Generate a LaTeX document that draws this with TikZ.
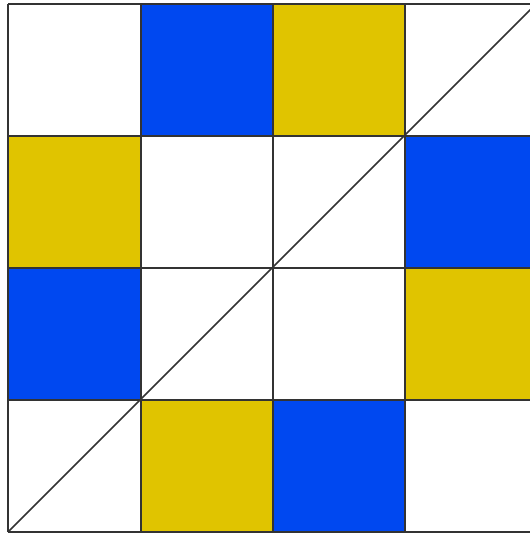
\documentclass[tikz,border=0pt]{standalone}
\definecolor{cblue}{HTML}{0048F0}
\definecolor{cyel}{HTML}{E0C400}
\definecolor{gline}{HTML}{333333}
\tikzset{cellb/.style={fill=cblue,draw=none},celly/.style={fill=cyel,draw=none},
gridl/.style={draw=gline,line width=1.7pt},diag/.style={draw=gline,line width=1.6pt}}
\begin{document}
\begin{tikzpicture}[x=1pt,y=-1pt]
\useasboundingbox (0,0) rectangle (530,536);
\clip (0,0) rectangle (530,536);
\fill[white] (0,0) rectangle (530,536);
% row 0
\fill[cellb] (141,4) rectangle (273,136);
\fill[celly] (273,4) rectangle (405,136);
% row 1
\fill[celly] (8,136) rectangle (141,268);
\fill[cellb] (405,136) rectangle (537,268);
% row 2
\fill[cellb] (8,268) rectangle (141,400);
\fill[celly] (405,268) rectangle (537,400);
% row 3
\fill[celly] (141,400) rectangle (273,532);
\fill[cellb] (273,400) rectangle (405,532);
% grid
\foreach \x in {8,141,273,405} \draw[gridl] (\x,4) -- (\x,532);
\foreach \y in {4,136,268,400,532} \draw[gridl] (8,\y) -- (540,\y);
% diagonal
\coordinate (dA) at (8,532);
\coordinate (dB) at (536,4);
\draw[diag] (dA) -- (dB);
\end{tikzpicture}
\end{document}
